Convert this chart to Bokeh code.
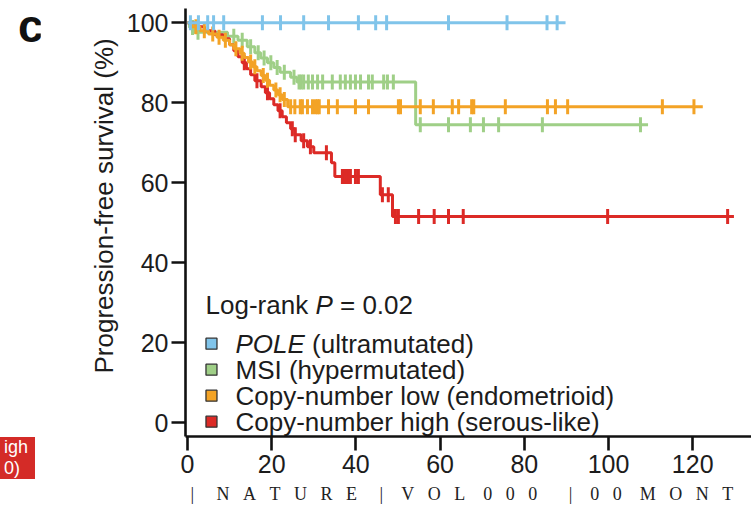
import numpy as np
from bokeh.plotting import figure
from bokeh.models import Range1d, FixedTicker, Title, Div, Spacer
from bokeh.layouts import row, column
from bokeh.core.properties import value
from bokeh.embed import file_html
from bokeh.resources import INLINE

# ---------------- data (months, survival %) ----------------
pole_event_t = []
pole_event_s = []
pole_end = 89.8
pole_censor = [0.7, 2.6, 4.8, 6.2, 8.6, 17.8, 22.1, 27.6, 33.5, 40.6, 44.7,
               47.3, 62.0, 75.9, 85.4, 87.8]

msi_event_t = [0.5, 1.5, 9.5, 12.0, 14.2, 16.0, 17.4, 19.0, 20.5, 22.0, 24.5, 26.0, 54.2]
msi_event_s = [98.8, 97.6, 96.6, 95.6, 94.0, 92.5, 91.2, 90.0, 88.8, 87.6, 86.4, 85.2, 74.5]
msi_end = 109.4
msi_censor = [1.2, 2.5, 11.0, 13.0, 15.0, 16.8, 18.2, 19.8, 21.3, 23.0, 25.3, 26.5,
              27.0, 27.6, 28.7, 29.7, 30.9, 32.1, 34.4, 36.3, 37.5, 38.7, 39.9,
              41.1, 43.0, 43.9, 46.6, 47.5, 48.9, 55.3, 62.0, 67.2, 70.3, 73.9,
              84.3, 107.6]

cnl_event_t = [1.0, 3.0, 5.0, 7.0, 8.5, 10.0, 11.0, 12.5, 13.5, 14.5, 15.5, 16.5,
               17.5, 18.5, 19.5, 20.5, 21.5, 22.5, 23.8]
cnl_event_s = [99.0, 98.0, 97.2, 96.4, 95.6, 94.5, 93.5, 92.4, 91.3, 90.2, 89.0,
               88.0, 86.8, 85.6, 84.4, 83.2, 82.0, 80.8, 79.0]
cnl_end = 122.4
cnl_censor = [2.0, 4.0, 6.0, 7.5, 9.0, 11.5, 13.0, 15.0, 16.0, 18.0, 19.0, 21.0,
              22.0, 23.0, 24.5, 25.5, 26.8, 27.3, 28.5, 29.7, 30.4, 30.9, 31.3,
              33.5, 35.6, 39.9, 43.0, 50.1, 50.6, 55.3, 58.4, 62.9, 64.4, 67.5,
              68.0, 75.5, 85.5, 87.4, 90.3, 112.8, 120.3]

cnh_event_t = [2.0, 4.0, 6.5, 8.5, 10.0, 11.0, 12.0, 13.0, 14.0, 15.0, 16.0, 17.5,
               18.5, 19.5, 20.5, 21.5, 22.5, 23.5, 24.5, 25.5, 27.0, 28.5, 30.0,
               34.2, 35.0, 45.8, 48.7]
cnh_event_s = [99.0, 98.0, 97.0, 96.0, 94.5, 93.0, 91.5, 90.0, 88.5, 87.0, 85.5,
               84.0, 82.5, 81.0, 79.5, 78.0, 76.5, 75.0, 73.5, 72.0, 70.5, 69.0,
               67.5, 65.0, 61.6, 57.0, 51.6]
cnh_end = 129.8
cnh_censor = [13.5, 16.5, 19.0, 22.0, 24.9, 25.6, 27.6, 29.2, 33.0, 36.8, 37.3,
              37.8, 38.3, 38.7, 39.9, 40.6, 46.3, 47.7, 49.4, 50.1, 54.9, 58.6,
              62.0, 65.5, 99.8, 128.3]

legend_labels = ["\u00a0(ultramutated)", "MSI (hypermutated)",
                 "Copy-number low (endometrioid)", "Copy-number high (serous-like)"]
pole_italic = "POLE"
pvalue_text = ("Log-rank\u00a0", "P", "\u00a0= 0.02")
y_title = "Progression-free survival (%)"
panel_letter = "c"
side_tag = "igh<br>0)"
NB = "\u00a0"
footer = ("|" + NB * 5 + (NB * 3).join("NATURE") + NB * 5 + "|" + NB * 4
          + (NB * 3).join("VOL") + NB * 4 + (NB * 3).join("000") + NB * 7 + "|"
          + NB * 4 + (NB * 3).join("00") + NB * 4 + (NB * 3).join("MONT"))

x_ticks = [0, 20, 40, 60, 80, 100, 120]
y_ticks = [0, 20, 40, 60, 80, 100]

# ---------------- styles ----------------
colors = ["#80c4ea", "#9fcf87", "#f3a326", "#dc2a26"]
FONT = "Liberation Sans"
TXT = "#1c1c1c"

LEFT_W = 40
W, H = 751 - LEFT_W, 509
x0, x1 = -0.47, 133.97
y0, y1 = -3.41, 103.56
ml, mr, mt, mb = 185 - LEFT_W, 0, 8, 71
px_per_x = (W - ml - mr) / (x1 - x0)

p = figure(width=W, height=H, output_backend="svg", toolbar_location=None,
           x_range=Range1d(x0, x1), y_range=Range1d(y0, y1),
           min_border_left=ml, min_border_right=mr, min_border_top=mt,
           min_border_bottom=mb)
p.outline_line_color = None
p.grid.visible = False
p.background_fill_color = "white"
p.border_fill_color = "white"

for ax, ticks in ((p.xaxis, x_ticks), (p.yaxis, y_ticks)):
    ax.ticker = FixedTicker(ticks=ticks)
    ax.axis_line_width = 2.6
    ax.axis_line_color = "#111111"
    ax.major_tick_line_width = 2.6
    ax.major_tick_line_color = "#111111"
    ax.major_tick_out = 14
    ax.major_tick_in = 0
    ax.minor_tick_line_color = None
    ax.major_label_text_font = FONT
    ax.major_label_text_font_size = "25px"
    ax.major_label_text_color = TXT
p.xaxis.major_label_standoff = 4
p.yaxis.major_label_standoff = 3


def surv_at(t, ev_t, ev_s):
    ev_t = np.asarray(ev_t, dtype=float)
    ev_s = np.asarray([100.0] + list(ev_s))
    idx = np.searchsorted(ev_t, np.asarray(t, dtype=float), side="right")
    return ev_s[idx]


series = [
    (msi_event_t, msi_event_s, msi_end, msi_censor, colors[1]),
    (cnh_event_t, cnh_event_s, cnh_end, cnh_censor, colors[3]),
    (cnl_event_t, cnl_event_s, cnl_end, cnl_censor, colors[2]),
    (pole_event_t, pole_event_s, pole_end, pole_censor, colors[0]),
]
for ev_t, ev_s, end, cens, col in series:
    xs = [0.0] + list(ev_t) + [end]
    ys = [100.0] + list(ev_s) + [ev_s[-1] if ev_s else 100.0]
    p.step(xs, ys, mode="after", line_color=col, line_width=3)
    cy = surv_at(cens, ev_t, ev_s)
    p.scatter(cens, cy, marker="dash", angle=np.pi / 2, size=15,
              line_color=col, line_width=3)

# ---------------- legend ----------------
fs = 26
sq_x = 5.7
tx = 11.4
rows_y = [19.8, 13.3, 6.8, 0.3]
p.scatter([sq_x] * 4, rows_y, marker="square", size=11,
          fill_color=colors, line_color="#333333", line_width=1.3)
italic_w = (0.667 + 0.778 + 0.556 + 0.667) * fs / px_per_x
p.text([tx], [rows_y[0]], text=[pole_italic], text_font=value(FONT),
       text_font_size=value(f"{fs}px"), text_font_style="italic",
       text_color=TXT, text_baseline="middle")
p.text([tx + italic_w], [rows_y[0]], text=[legend_labels[0]], text_font=value(FONT),
       text_font_size=value(f"{fs}px"), text_color=TXT, text_baseline="middle")
p.text([tx] * 3, rows_y[1:], text=legend_labels[1:], text_font=value(FONT),
       text_font_size=value(f"{fs}px"), text_color=TXT, text_baseline="middle")

lr_x, lr_y = 4.3, 29.4
w1 = (0.556 * 3 + 0.333 * 2 + 0.556 * 2 + 0.5 + 0.278) * fs / px_per_x
w2 = 0.667 * fs / px_per_x
p.text([lr_x], [lr_y], text=[pvalue_text[0]], text_font=value(FONT),
       text_font_size=value(f"{fs}px"), text_color=TXT, text_baseline="middle")
p.text([lr_x + w1], [lr_y], text=[pvalue_text[1]], text_font=value(FONT),
       text_font_size=value(f"{fs}px"), text_font_style="italic",
       text_color=TXT, text_baseline="middle")
p.text([lr_x + w1 + w2], [lr_y], text=[pvalue_text[2]], text_font=value(FONT),
       text_font_size=value(f"{fs}px"), text_color=TXT, text_baseline="middle")

# ---------------- side titles ----------------
p.add_layout(Title(text=y_title, align="left", offset=63, standoff=10,
                   text_font=FONT, text_font_size="26px", text_font_style="normal",
                   text_color=TXT), "left")
p.add_layout(Title(text=footer, align="left", offset=5, standoff=12,
                   text_font="Liberation Serif", text_font_size="18px",
                   text_font_style="normal", text_color="#222222"), "below")

# ---------------- left strip (panel letter + cropped neighbour tag) ----------------
letter = Div(text=f'<div style="font-family:\'Liberation Sans\',Arial,sans-serif;'
                  f'font-weight:700;font-size:46px;line-height:46px;color:#111;'
                  f'padding-left:18px;margin-top:3px">{panel_letter}</div>',
             width=LEFT_W, height=60, margin=0)
gap = Spacer(width=LEFT_W, height=377, margin=0)
tag = Div(text=f'<div style="background:#d42b27;color:#fff;'
               f'font-family:\'Liberation Sans\',Arial,sans-serif;'
               f'font-size:18px;line-height:21px;width:35px;height:42px;'
               f'box-sizing:border-box;padding-left:4px;'
               f'overflow:hidden">{side_tag}</div>',
          width=LEFT_W, height=42, margin=0)
left = column(letter, gap, tag, width=LEFT_W, margin=0)

layout = row(left, p)
open("out.html", "w").write(file_html(layout, INLINE))
